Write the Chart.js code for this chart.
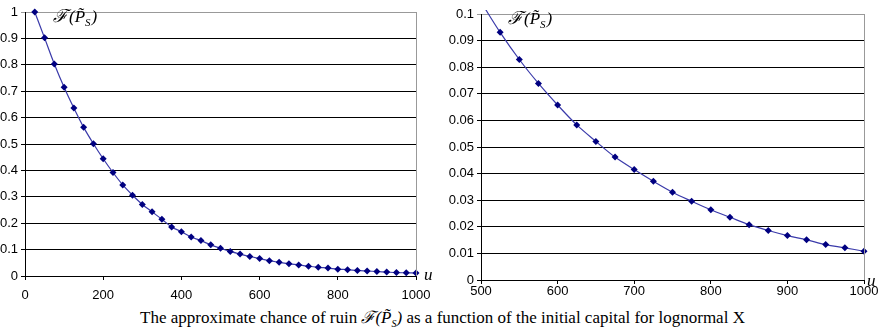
<!DOCTYPE html>
<html>
<head>
<meta charset="utf-8">
<script src="https://cdn.jsdelivr.net/npm/chart.js@4"></script>
<style>
  body { margin: 0; background: #fff; width: 885px; height: 334px; position: relative; overflow: hidden; }
  #leftBox { position: absolute; left: 0; top: 0; width: 440px; height: 300px; }
  #rightBox { position: absolute; left: 440px; top: 0; width: 445px; height: 300px; }
  #caption {
    position: absolute; left: 0; top: 305px; width: 885px; text-align: center;
    font-family: "Liberation Serif", serif; font-size: 17px; color: #000;
  }
  #caption .f { font-style: italic; }
  #caption sub { font-size: 10px; font-style: italic; }
</style>
</head>
<body>
<div id="leftBox"><canvas id="leftChart"></canvas></div>
<div id="rightBox"><canvas id="rightChart"></canvas></div>
<div id="caption">The approximate chance of ruin <span class="f">ℱ(P̃<sub>S</sub>)</span> as a function of the initial capital for lognormal X</div>
<script>
// initial capital u (left panel: whole range, right panel: zoom on 500..1000)
const uLeft = [25, 50, 75, 100, 125, 150, 175, 200, 225, 250, 275, 300, 325, 350, 375, 400, 425, 450, 475, 500,
  525, 550, 575, 600, 625, 650, 675, 700, 725, 750, 775, 800, 825, 850, 875, 900, 925, 950, 975, 1000];
const ruinLeft = [1.0, 0.902, 0.803, 0.715, 0.636, 0.563, 0.501, 0.444, 0.392, 0.345, 0.306, 0.271, 0.243, 0.215, 0.186, 0.168, 0.148, 0.134, 0.118, 0.105,
  0.093, 0.083, 0.074, 0.066, 0.058, 0.052, 0.046, 0.042, 0.037, 0.033, 0.030, 0.026, 0.024, 0.021, 0.019, 0.017, 0.015, 0.013, 0.012, 0.011];

const uRight = [500, 525, 550, 575, 600, 625, 650, 675, 700, 725, 750, 775, 800, 825, 850, 875, 900, 925, 950, 975, 1000];
const ruinRight = [0.1045, 0.0931, 0.0829, 0.0739, 0.0658, 0.0583, 0.0521, 0.0462, 0.0415, 0.0371, 0.0330, 0.0296, 0.0264, 0.0236, 0.0208, 0.0186, 0.0167, 0.0151, 0.0133, 0.0121, 0.0108];

const leftXTicks = [0, 200, 400, 600, 800, 1000];
const leftYTicks = [0, 0.1, 0.2, 0.3, 0.4, 0.5, 0.6, 0.7, 0.8, 0.9, 1];
const rightXTicks = [500, 600, 700, 800, 900, 1000];
const rightYTicks = [0, 0.01, 0.02, 0.03, 0.04, 0.05, 0.06, 0.07, 0.08, 0.09, 0.1];

const lineColor = '#3a3aaa';
const markColor = '#000080';
const tickFont = { family: '"Liberation Sans", Arial, sans-serif', size: 13 };

// draws the F(P_S) label, the "u" axis name and the grey right edge
function decorations(fx, fy, ux, uy) {
  return {
    id: 'decor',
    afterDraw(chart) {
      const ctx = chart.ctx;
      const a = chart.chartArea;
      ctx.save();
      ctx.strokeStyle = '#999';
      ctx.lineWidth = 1;
      ctx.beginPath();
      ctx.moveTo(Math.round(a.right) + 0.5, a.top);
      ctx.lineTo(Math.round(a.right) + 0.5, a.bottom);
      ctx.stroke();

      ctx.fillStyle = '#000';
      ctx.textBaseline = 'alphabetic';
      ctx.font = 'italic 18px "DejaVu Serif", "Liberation Serif", serif';
      ctx.fillText('ℱ', fx, fy);
      let x = fx + ctx.measureText('ℱ').width;
      ctx.font = 'italic 17px "Liberation Serif", serif';
      ctx.fillText('(P̃', x + 1, fy);
      x += 1 + ctx.measureText('(P̃').width;
      ctx.font = 'italic 11px "Liberation Serif", serif';
      ctx.fillText('S', x, fy + 4);
      x += ctx.measureText('S').width + 1;
      ctx.font = 'italic 17px "Liberation Serif", serif';
      ctx.fillText(')', x, fy);

      ctx.font = 'italic 17px "Liberation Serif", serif';
      ctx.textBaseline = 'middle';
      ctx.fillText('u', ux, uy);
      ctx.restore();
    }
  };
}

function makeChart(id, xs, ys, xMin, xMax, xTicks, yMax, yTicks, opts) {
  const points = xs.map((u, i) => ({ x: u, y: ys[i] }));
  return new Chart(document.getElementById(id), {
    type: 'line',
    data: {
      datasets: [{
        data: points,
        borderColor: lineColor,
        borderWidth: 1.2,
        tension: 0.35,
        pointStyle: 'rectRot',
        pointRadius: ctx => (opts.hideFirst && ctx.dataIndex === 0) ? 0 : 3.5,
        pointBackgroundColor: markColor,
        pointBorderColor: markColor,
        pointBorderWidth: 0,
        clip: opts.clip
      }]
    },
    options: {
      responsive: false,
      animation: false,
      maintainAspectRatio: false,
      layout: { padding: opts.padding },
      plugins: { legend: { display: false }, tooltip: { enabled: false } },
      scales: {
        x: {
          type: 'linear', min: xMin, max: xMax,
          afterBuildTicks: axis => { axis.ticks = xTicks.map(v => ({ value: v })); },
          afterFit: axis => { axis.height = opts.xAxisHeight; },
          border: { color: '#000', width: 1 },
          grid: { drawOnChartArea: false, drawTicks: true, tickLength: 4, color: '#000' },
          ticks: { color: '#000', font: tickFont, padding: opts.xPad, maxRotation: 0, autoSkip: false,
            callback: v => String(v) }
        },
        y: {
          min: 0, max: yMax,
          afterBuildTicks: axis => { axis.ticks = yTicks.map(v => ({ value: v })); },
          afterFit: axis => { axis.width = opts.yAxisWidth; },
          border: { color: '#000', width: 1 },
          grid: {
            color: c => (c.tick && Math.abs(c.tick.value - yMax) < 1e-9) ? '#999' : '#000',
            lineWidth: 1, tickLength: 4
          },
          ticks: {
            color: '#000', font: tickFont, padding: 3,
            callback: v => String(+v.toFixed(3))
          }
        }
      }
    },
    plugins: [decorations(opts.fx, opts.fy, opts.ux, opts.uy)]
  });
}

const lc = document.getElementById('leftChart');
lc.width = 440; lc.height = 300;
const rc = document.getElementById('rightChart');
rc.width = 445; rc.height = 300;

makeChart('leftChart', uLeft, ruinLeft, 0, 1000, leftXTicks, 1, leftYTicks, {
  padding: { top: 12, right: 24, left: 0, bottom: 0 },
  yAxisWidth: 25, xAxisHeight: 24, xPad: 8,
  clip: false, hideFirst: false,
  fx: 53, fy: 22, ux: 424, uy: 276
});

makeChart('rightChart', uRight, ruinRight, 500, 1000, rightXTicks, 0.1, rightYTicks, {
  padding: { top: 14, right: 21, left: 0, bottom: 0 },
  yAxisWidth: 41, xAxisHeight: 20, xPad: 0,
  clip: { left: 5, top: 4, right: 6, bottom: 5 }, hideFirst: true,
  fx: 68, fy: 24, ux: 427, uy: 282
});
</script>
</body>
</html>
